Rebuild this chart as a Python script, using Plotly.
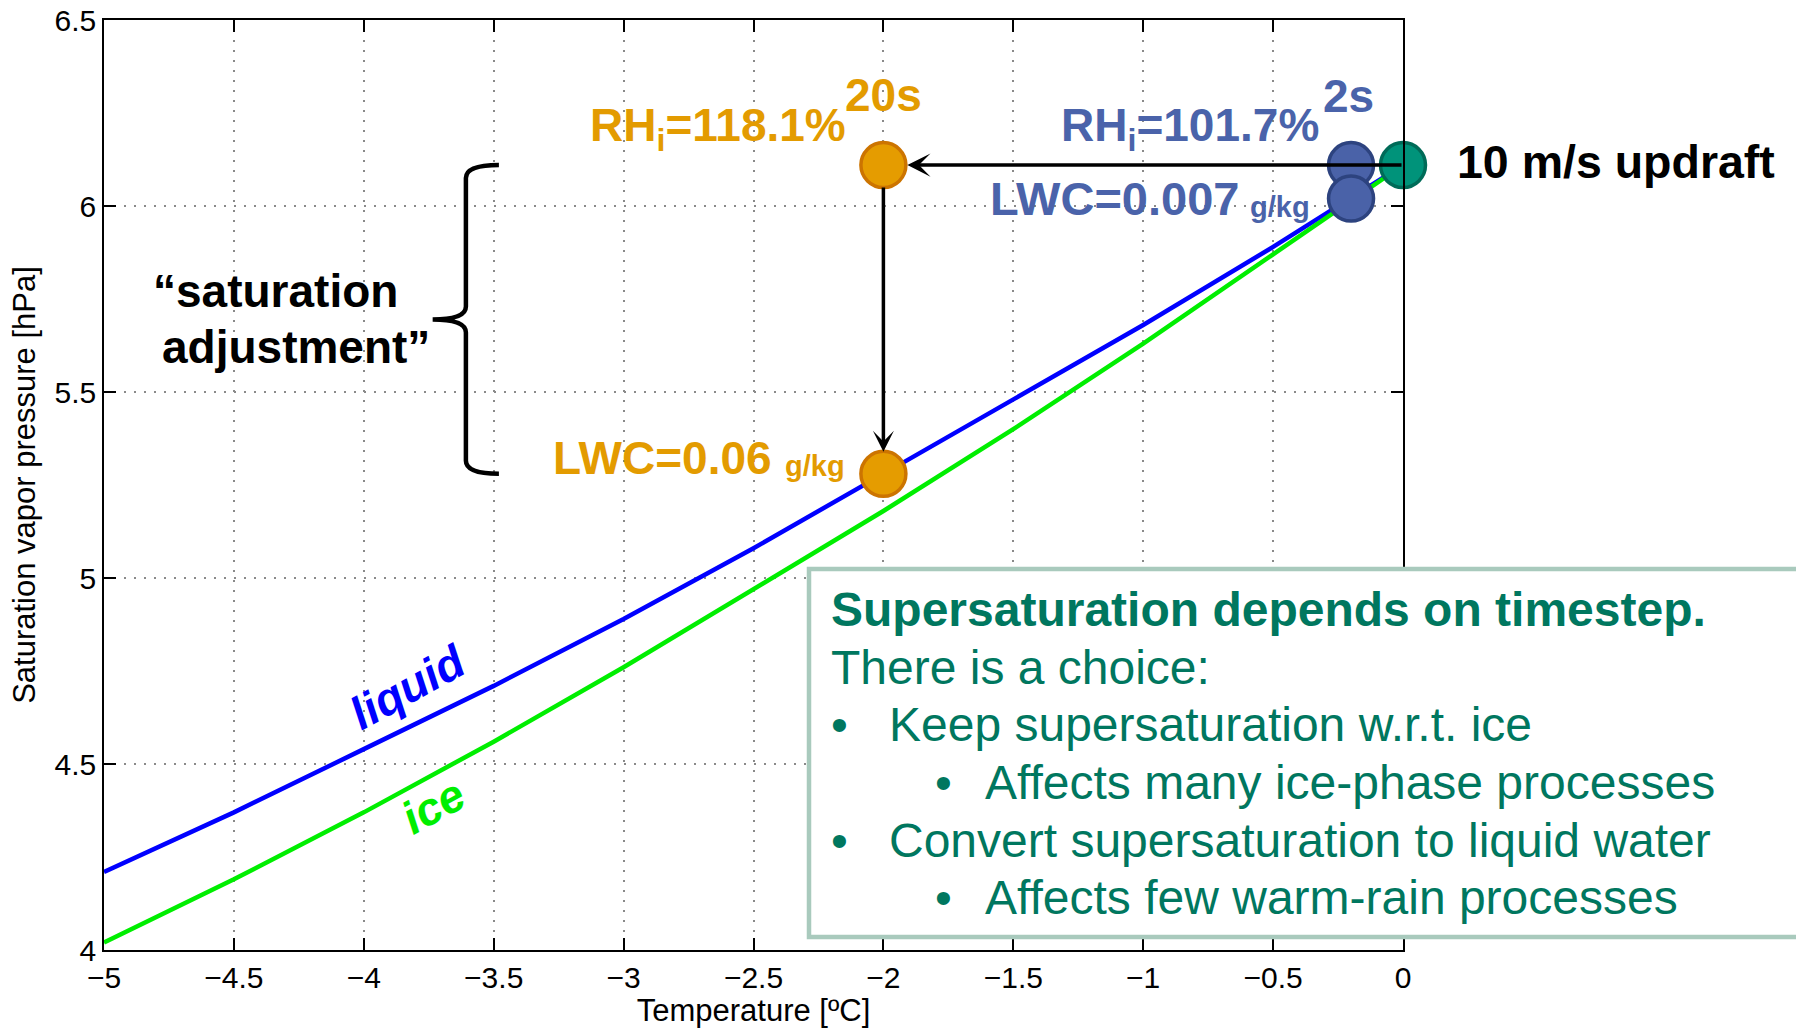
import plotly.graph_objects as go

# Saturation vapour pressure (hPa) over liquid water and over ice, -5..0 degC
temp_c = [-5.0, -4.5, -4.0, -3.5, -3.0, -2.5, -2.0, -1.5, -1.0, -0.5, 0.0]
es_liquid = [4.21, 4.37, 4.54, 4.71, 4.89, 5.08, 5.28, 5.48, 5.68, 5.89, 6.11]
es_ice = [4.02, 4.19, 4.37, 4.56, 4.76, 4.97, 5.18, 5.40, 5.63, 5.87, 6.11]

# Parcel states: starting point and result after a 2 s and a 20 s timestep
start_T = [0.0]
start_e = [6.11]
step2_T = [-0.2, -0.2]
step2_e = [6.11, 6.02]
step20_T = [-2.0, -2.0]
step20_e = [6.11, 5.28]

step_names = ["2s", "20s"]
rh_labels = ["RH<sub>i</sub>=101.7%", "RH<sub>i</sub>=118.1%"]
lwc_labels = ["LWC=0.007", "LWC=0.06"]
lwc_unit = "g/kg"
updraft_label = "10 m/s updraft"
adjust_lines = ["\u201csaturation", "adjustment\u201d"]

x_ticks = [-5, -4.5, -4, -3.5, -3, -2.5, -2, -1.5, -1, -0.5, 0]
x_ticktext = ["\u22125", "\u22124.5", "\u22124", "\u22123.5", "\u22123", "\u22122.5",
              "\u22122", "\u22121.5", "\u22121", "\u22120.5", "0"]
y_ticks = [4, 4.5, 5, 5.5, 6, 6.5]
y_ticktext = ["4", "4.5", "5", "5.5", "6", "6.5"]

box_title = "Supersaturation depends on timestep."
box_intro = "There is a choice:"
box_items = [
    (0, "Keep supersaturation w.r.t. ice"),
    (1, "Affects many ice-phase processes"),
    (0, "Convert supersaturation to liquid water"),
    (1, "Affects few warm-rain processes"),
]

FONT = "Liberation Sans, Arial, Helvetica, sans-serif"
ORANGE, ORANGE_EDGE = "#E59C00", "#CC7400"
BLUE, BLUE_EDGE = "#4A62A8", "#2D437F"
TEAL, TEAL_EDGE = "#00937A", "#006B58"
ORANGE_TXT = "#E39B00"
BLUE_TXT = "#4A63AA"
BOX_TXT = "#00775F"
BOX_EDGE = "#A9CABD"

W, H = 1796, 1028
ML, MR, MT, MB = 104, 393, 20, 78
PW, PH = W - ML - MR, H - MT - MB


def px(xp):
    return (xp - ML) / PW


def py(yp):
    return 1 - (yp - MT) / PH


fig = go.Figure()

fig.add_trace(go.Scatter(x=temp_c, y=es_liquid, mode="lines",
                         line=dict(color="#0000FF", width=4.5), hoverinfo="skip"))
fig.add_trace(go.Scatter(x=temp_c, y=es_ice, mode="lines",
                         line=dict(color="#00EE00", width=4.5), hoverinfo="skip"))


def dots(xs, ys, fill, edge):
    fig.add_trace(go.Scatter(x=xs, y=ys, mode="markers", cliponaxis=False,
                             marker=dict(size=45, color=fill, line=dict(color=edge, width=3.5)),
                             hoverinfo="skip"))


dots(step20_T, step20_e, ORANGE, ORANGE_EDGE)
dots(step2_T, step2_e, BLUE, BLUE_EDGE)
dots(start_T, start_e, TEAL, TEAL_EDGE)

ann = []


def label(x, y, text, dx, dy, size, color, xanchor="center", bold=True, italic=False, angle=0,
          xref="x", yref="y"):
    t = text
    if italic:
        t = "<i>" + t + "</i>"
    if bold:
        t = "<b>" + t + "</b>"
    ann.append(dict(x=x, y=y, xref=xref, yref=yref, text=t, showarrow=False,
                    xanchor=xanchor, yanchor="middle", xshift=dx, yshift=dy,
                    textangle=angle, font=dict(family=FONT, size=size, color=color)))


# arrows: updraft with a 20 s step, then the saturation adjustment
ann.append(dict(x=step20_T[0], y=step20_e[0], ax=start_T[0], ay=start_e[0],
                xref="x", yref="y", axref="x", ayref="y", text="", showarrow=True,
                arrowhead=3, arrowsize=1.1, arrowwidth=3.5, arrowcolor="black", standoff=24))
ann.append(dict(x=step20_T[1], y=step20_e[1], ax=step20_T[0], ay=step20_e[0],
                xref="x", yref="y", axref="x", ayref="y", text="", showarrow=True,
                arrowhead=3, arrowsize=1.0, arrowwidth=3.5, arrowcolor="black",
                standoff=22, startstandoff=21))

# 20 s step labels
label(step20_T[0], step20_e[0], rh_labels[1], -35, 37, 46, ORANGE_TXT, xanchor="right")
label(step20_T[0], step20_e[0], step_names[1], 0, 70, 46, ORANGE_TXT)
label(step20_T[1], step20_e[1], lwc_labels[1], -109, 16, 46, ORANGE_TXT, xanchor="right")
label(step20_T[1], step20_e[1], lwc_unit, -36, 8, 29, ORANGE_TXT, xanchor="right")

# 2 s step labels
label(step2_T[0], step2_e[0], rh_labels[0], -30, 37, 46, BLUE_TXT, xanchor="right")
label(step2_T[0], step2_e[0], step_names[0], -3, 69, 46, BLUE_TXT)
label(step2_T[1], step2_e[1], lwc_labels[0], -110, 0, 47, BLUE_TXT, xanchor="right")
label(step2_T[1], step2_e[1], lwc_unit, -39, -8, 29, BLUE_TXT, xanchor="right")

label(start_T[0], start_e[0], updraft_label, 52, 3, 46.5, "black", xanchor="left")

# curve names
label(-3.83, 4.706, "liquid", 0, 0, 46, "#0000FF", italic=True, angle=-29)
label(-3.733, 4.388, "ice", 0, 0, 46, "#00EE00", italic=True, angle=-29)

# curly brace spanning the adjustment
y_top, y_bot = step20_e[0], step20_e[1]
y_mid = (y_top + y_bot) / 2
x_end, x_spine, x_tip = -3.48, -3.607, -3.735
r = 0.035
brace = (f"M {x_end},{y_top} Q {x_spine},{y_top} {x_spine},{y_top - r} "
         f"L {x_spine},{y_mid + r} Q {x_spine},{y_mid} {x_tip},{y_mid} "
         f"Q {x_spine},{y_mid} {x_spine},{y_mid - r} "
         f"L {x_spine},{y_bot + r} Q {x_spine},{y_bot} {x_end},{y_bot}")
shapes = [dict(type="path", path=brace, xref="x", yref="y",
               line=dict(color="black", width=4.5))]
label(x_tip, y_mid, adjust_lines[0], -157, 28, 46, "black")
label(x_tip, y_mid, adjust_lines[1], -137, -28, 46, "black")

# explanatory text box
shapes.append(dict(type="rect", xref="paper", yref="paper", layer="above",
                   x0=px(809), x1=px(1830), y0=py(937), y1=py(569),
                   fillcolor="white", line=dict(color=BOX_EDGE, width=4.5)))
line_y = [609, 667, 724, 782, 840, 897]
label(px(829), py(line_y[0]), box_title, 0, 0, 48, BOX_TXT, xanchor="left", xref="paper", yref="paper")
label(px(829), py(line_y[1]), box_intro, 0, 0, 48, BOX_TXT, xanchor="left", bold=False,
      xref="paper", yref="paper")
bullet_x = [829, 933]
text_x = [887, 983]
for i, (lvl, txt) in enumerate(box_items):
    yy = py(line_y[i + 2])
    label(px(bullet_x[lvl]), yy, "\u2022", 0, 0, 48, BOX_TXT, xanchor="left", bold=False,
          xref="paper", yref="paper")
    label(px(text_x[lvl]), yy, txt, 0, 0, 48, BOX_TXT, xanchor="left", bold=False,
          xref="paper", yref="paper")

axis_common = dict(showline=True, linecolor="black", linewidth=1.5, mirror="ticks",
                   ticks="inside", ticklen=12, tickwidth=1.5, tickcolor="black",
                   showgrid=True, gridcolor="#8a8a8a", gridwidth=1.5, griddash="2px,8px",
                   zeroline=False, tickfont=dict(family=FONT, size=30, color="black"))

fig.update_layout(
    width=W, height=H,
    margin=dict(l=ML, r=MR, t=MT, b=MB, autoexpand=False),
    paper_bgcolor="white", plot_bgcolor="white",
    showlegend=False,
    annotations=ann, shapes=shapes,
    xaxis=dict(range=[-5, 0], tickvals=x_ticks, ticktext=x_ticktext,
               title=dict(text="Temperature [\u00baC]", standoff=4,
                          font=dict(family=FONT, size=31, color="black")),
               **axis_common),
    yaxis=dict(range=[4, 6.5], tickvals=y_ticks, ticktext=y_ticktext,
               title=dict(text="Saturation vapor pressure [hPa]", standoff=10,
                          font=dict(family=FONT, size=31, color="black")),
               **axis_common),
)

fig.write_html("out.html")
